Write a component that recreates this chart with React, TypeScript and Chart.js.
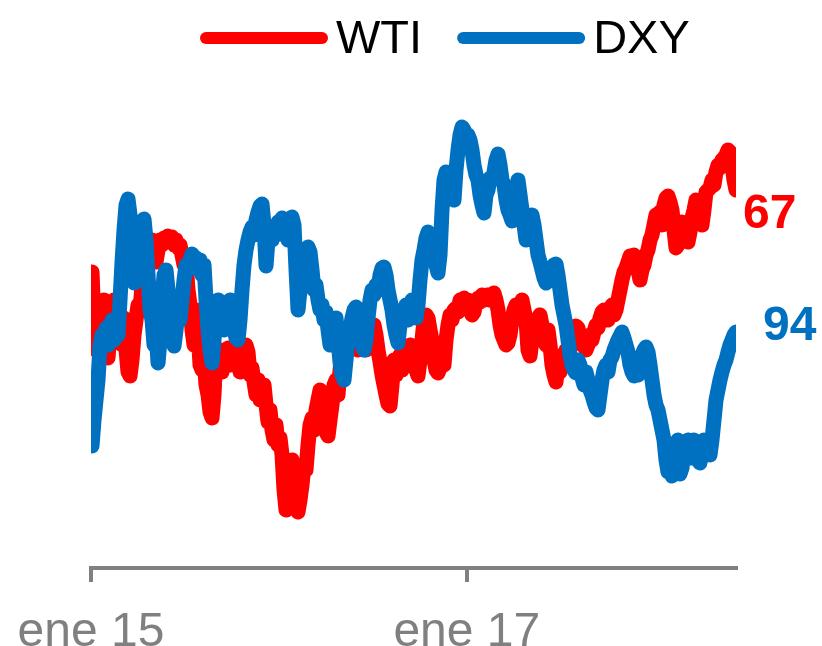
import React, { useEffect, useRef } from 'react';
import { Chart, registerables } from 'chart.js';

Chart.register(...registerables);

// ---- data ----
const seriesNames = ['WTI', 'DXY'];
const tickDays = [0, 731]; // days since 1 Jan 2015
const tickLabels = ['ene 15', 'ene 17'];
const FIRST_DAY = 2;
const STEP_DAYS = 3.89;

const wtiValues = [
  56.75, 50.13, 47, 49.25, 47.63, 52, 53.25, 51, 46, 49.5,
  52.63, 53.25, 51.75, 48.25, 50.13, 47.63, 51, 47, 44.25, 43.75,
  45.75, 48.88, 50.75, 52.63, 52, 55.13, 56.38, 57.63, 59.5, 60.5,
  60.75, 59.88, 58, 59.5, 60.75, 60.13, 61, 60.5, 61.25, 60.75,
  61.13, 60.13, 60.75, 59.75, 60.13, 58.88, 57.63, 58, 54.5, 52.63,
  49.5, 47.63, 52, 49.5, 45.13, 44.5, 45.75, 42.63, 41.38, 39.25,
  38.5, 41.38, 47, 45.13, 47, 44.25, 46.38, 45.5, 47.25, 45.13,
  47, 46, 45.13, 46.75, 44.25, 45.75, 47, 47.63, 46.75, 43.88,
  44.75, 43, 41.38, 43.25, 40.75, 42, 42.63, 40.13, 38, 39.5,
  37, 35.75, 37.63, 35.13, 36, 33.88, 29.5, 27, 28.25, 30.75,
  33.25, 32, 27.63, 26.75, 28.25, 30.13, 32.63, 32, 35.13, 37.63,
  38.5, 37, 39.5, 40.75, 42, 41.38, 38.25, 36.75, 36.25, 38.25,
  40.13, 42.63, 43.25, 41.38, 44.5, 46.38, 45.75, 47, 48.25, 47.63,
  48.5, 47.63, 48.25, 47, 48, 47.25, 47.75, 47, 48.25, 47.63,
  49.5, 50.13, 48.88, 47, 45.5, 43.88, 42.63, 41.38, 40.25, 40,
  42.63, 45.75, 43.88, 45.75, 46.38, 44.5, 47, 45.75, 45.13, 47.63,
  46.38, 45.75, 44.5, 43.75, 45.75, 48.25, 50.75, 51.38, 51, 49.5,
  48.25, 45.75, 44.5, 44.13, 44.75, 45.75, 45.13, 48.25, 50.13, 51.38,
  50.75, 52, 52.25, 51.75, 53.25, 53, 53.5, 52.5, 53.25, 52,
  51.38, 51.75, 53, 53.5, 53, 53.88, 53.25, 53.5, 53.88, 53.25,
  53.63, 54.13, 53.25, 52, 50.13, 48.88, 48.25, 47.63, 47.88, 48.88,
  50.75, 52, 52.63, 51.38, 52.63, 53.25, 52, 50.75, 47, 46.25,
  48.25, 50.13, 49.5, 51, 51.38, 50.13, 48.88, 47.63, 49.5, 47.63,
  45.13, 43.88, 43, 45.13, 44.25, 46.38, 45.13, 47, 45.75, 47.63,
  48.25, 49.25, 50, 49.75, 48.5, 47.63, 48.25, 47, 47.63, 48.88,
  48.25, 49.25, 50.13, 49.75, 51, 51.75, 52, 51.38, 50.75, 51.75,
  52.63, 51.38, 52, 53.25, 54.5, 55.75, 56.75, 57.25, 58, 58.75,
  58.25, 58.88, 58, 57, 55.75, 57, 57.63, 58.88, 59.5, 60.75,
  61.38, 62.63, 63.88, 63.5, 64.25, 62.63, 65.13, 66, 66.25, 65.5,
  64.5, 62, 59.75, 60.13, 61.75, 63, 62.63, 61.38, 60.5, 61.75,
  63.5, 64.5, 65.75, 65.13, 64.5, 62.63, 64.5, 66.75, 67, 67.25,
  68.25, 67.63, 69.25, 70.13, 69.75, 70.75, 71, 71.38, 72, 71.75,
  70.13, 68.25, 67,
];

const dxyValues = [
  89.44, 90.48, 91.28, 92.08, 93.48, 93.88, 93.68, 94.16, 93.48, 94.08,
  94.48, 93.68, 94.28, 93.88, 95.28, 96.80, 98.08, 99.08, 99.32, 98.68,
  97.28, 95.96, 96.48, 97.28, 97.88, 98.40, 98.52, 97.68, 96.28, 94.88,
  94.48, 93.48, 94.08, 92.76, 93.68, 95.28, 96.28, 96.48, 95.68, 94.48,
  93.88, 93.44, 94.08, 94.88, 94.48, 95.28, 96.08, 96.68, 96.48, 96.88,
  97.12, 96.68, 96.96, 96.48, 96.88, 96.28, 96.68, 95.28, 94.08, 93.28,
  92.76, 93.68, 94.68, 95.28, 94.48, 94.88, 94.08, 95.08, 94.28, 95.28,
  94.68, 94.08, 93.76, 93.68, 94.48, 95.68, 96.68, 97.28, 97.68, 98.00,
  98.20, 97.88, 98.48, 98.80, 99.04, 99.12, 98.28, 96.64, 97.68, 98.08,
  97.68, 98.16, 97.88, 98.40, 98.28, 98.56, 97.88, 98.28, 97.68, 98.48,
  98.60, 98.28, 96.48, 94.88, 95.68, 96.48, 96.80, 97.28, 97.40, 97.20,
  96.48, 95.68, 95.88, 95.28, 94.88, 95.08, 94.48, 94.80, 94.08, 93.48,
  93.88, 94.28, 94.56, 93.68, 92.80, 92.28, 92.08, 92.88, 93.68, 94.08,
  94.56, 94.88, 95.00, 94.48, 93.88, 93.48, 93.28, 93.68, 94.56, 95.28,
  95.68, 95.48, 95.88, 95.68, 96.28, 96.56, 96.60, 96.28, 95.68, 95.28,
  94.88, 94.28, 93.88, 93.56, 94.28, 94.88, 94.68, 95.08, 94.48, 94.88,
  95.28, 94.80, 94.56, 95.08, 96.08, 96.88, 97.28, 97.76, 98.00, 97.68,
  97.28, 97.68, 96.68, 96.36, 97.08, 98.88, 100.08, 100.40, 100.00, 100.16,
  99.48, 99.28, 100.48, 101.28, 101.88, 102.20, 102.08, 101.48, 101.88, 101.68,
  101.28, 100.68, 100.28, 100.08, 99.48, 99.08, 98.76, 99.48, 99.68, 100.16,
  100.08, 100.40, 100.88, 101.12, 100.68, 100.08, 99.88, 99.28, 98.88, 98.68,
  98.44, 99.08, 99.68, 100.08, 99.48, 98.88, 98.28, 97.68, 98.08, 98.28,
  98.68, 98.28, 97.68, 97.08, 96.80, 96.48, 96.16, 95.96, 96.48, 96.28,
  96.56, 96.68, 96.72, 96.28, 95.68, 95.08, 94.68, 94.28, 93.68, 93.08,
  92.68, 92.48, 92.36, 92.88, 92.68, 92.16, 91.88, 92.40, 92.08, 91.68,
  91.48, 91.20, 90.96, 90.88, 91.48, 92.08, 92.48, 92.68, 92.40, 92.88,
  93.00, 93.28, 93.48, 93.68, 93.84, 94.00, 93.76, 93.48, 93.20, 92.68,
  92.40, 92.24, 92.48, 92.28, 92.88, 93.08, 93.28, 93.40, 93.20, 92.68,
  92.08, 91.48, 91.08, 90.88, 90.48, 90.08, 89.68, 88.88, 88.40, 89.48,
  88.24, 89.28, 88.48, 89.68, 88.32, 88.56, 89.48, 89.08, 89.68, 88.96,
  89.28, 89.68, 89.36, 88.88, 88.76, 89.48, 89.68, 89.20, 89.48, 89.08,
  89.68, 90.48, 91.28, 91.68, 92.08, 92.40, 92.68, 92.88, 93.20, 93.48,
  93.68, 93.88, 94.00,
];

// ---- styles ----
const RED = '#FF0000';
const BLUE = '#0070C0';
const GREY = '#808080';
const FONT = "'Liberation Sans', Arial, Helvetica, sans-serif";
const WTI_RANGE = [19.75, 80.75];
const DXY_RANGE = [84.56, 104.08];

export default function App() {
  const ref = useRef<HTMLCanvasElement>(null);

  useEffect(() => {
    if (!ref.current) return;
    Chart.defaults.font.family = FONT;
    const days = wtiValues.map((_, i) => FIRST_DAY + i * STEP_DAYS);
    const lastDay = days[days.length - 1];
    const colors = [RED, BLUE];

    const overlay = {
      id: 'legendAndEndLabels',
      afterDraw(chart: any) {
        const { ctx } = chart;
        ctx.save();
        // legend
        ctx.font = `47px ${FONT}`;
        ctx.textBaseline = 'alphabetic';
        ctx.textAlign = 'left';
        let lx = 200;
        seriesNames.forEach((name, i) => {
          ctx.strokeStyle = colors[i];
          ctx.lineWidth = 12;
          ctx.lineCap = 'round';
          ctx.beginPath();
          ctx.moveTo(lx + 6, 38);
          ctx.lineTo(lx + 122, 38);
          ctx.stroke();
          ctx.fillStyle = '#000000';
          ctx.fillText(name, lx + 136, 53);
          lx += 136 + ctx.measureText(name).width + 35;
        });
        // end labels
        const xs = chart.scales.x;
        const lastW = wtiValues[wtiValues.length - 1];
        const lastD = dxyValues[dxyValues.length - 1];
        const px = xs.getPixelForValue(lastDay);
        ctx.font = `bold 48px ${FONT}`;
        ctx.fillStyle = RED;
        ctx.fillText(String(Math.round(lastW)), px + 7, chart.scales.yWti.getPixelForValue(lastW) + 38);
        ctx.fillStyle = BLUE;
        ctx.fillText(String(Math.round(lastD)), px + 27, chart.scales.yDxy.getPixelForValue(lastD) + 8);
        ctx.restore();
      },
    };

    const mk = (vals: number[]) => vals.map((v, i) => ({ x: days[i], y: v }));

    const chart = new Chart(ref.current, {
      type: 'line',
      data: {
        datasets: [
          {
            label: seriesNames[0],
            data: mk(wtiValues),
            yAxisID: 'yWti',
            borderColor: RED,
            backgroundColor: RED,
            borderWidth: 15,
            pointRadius: 0,
            borderJoinStyle: 'round',
            borderCapStyle: 'round',
            tension: 0,
            order: 1,
          },
          {
            label: seriesNames[1],
            data: mk(dxyValues),
            yAxisID: 'yDxy',
            borderColor: BLUE,
            backgroundColor: BLUE,
            borderWidth: 15,
            pointRadius: 0,
            borderJoinStyle: 'round',
            borderCapStyle: 'round',
            tension: 0,
            order: 0,
          },
        ],
      },
      options: {
        responsive: false,
        animation: false,
        devicePixelRatio: 1,
        layout: { padding: { top: 80, left: 91, right: 86, bottom: 0 } },
        plugins: { legend: { display: false }, tooltip: { enabled: false } },
        scales: {
          x: {
            type: 'linear',
            min: 0,
            max: lastDay,
            afterBuildTicks: (s: any) => {
              s.ticks = tickDays.map((v) => ({ value: v }));
            },
            afterFit: (s: any) => {
              s.height = 78;
            },
            ticks: {
              callback: (v: any) => {
                const k = tickDays.indexOf(Number(v));
                return k >= 0 ? tickLabels[k] : '';
              },
              font: { size: 48, family: FONT, lineHeight: 2.12 },
              color: GREY,
              padding: 0,
              maxRotation: 0,
              autoSkip: false,
            },
            grid: {
              display: true,
              drawOnChartArea: false,
              drawTicks: true,
              tickLength: 14,
              color: GREY,
              lineWidth: 4,
            },
            border: { display: true, color: GREY, width: 4 },
          },
          yWti: { type: 'linear', display: false, min: WTI_RANGE[0], max: WTI_RANGE[1] },
          yDxy: { type: 'linear', display: false, min: DXY_RANGE[0], max: DXY_RANGE[1] },
        },
      },
      plugins: [overlay],
    } as any);
    return () => chart.destroy();
  }, []);

  return (
    <div style={{ position: 'fixed', left: 0, top: 0, width: 822, height: 646, background: '#ffffff' }}>
      <canvas ref={ref} width={822} height={646} style={{ display: 'block' }} />
    </div>
  );
}
